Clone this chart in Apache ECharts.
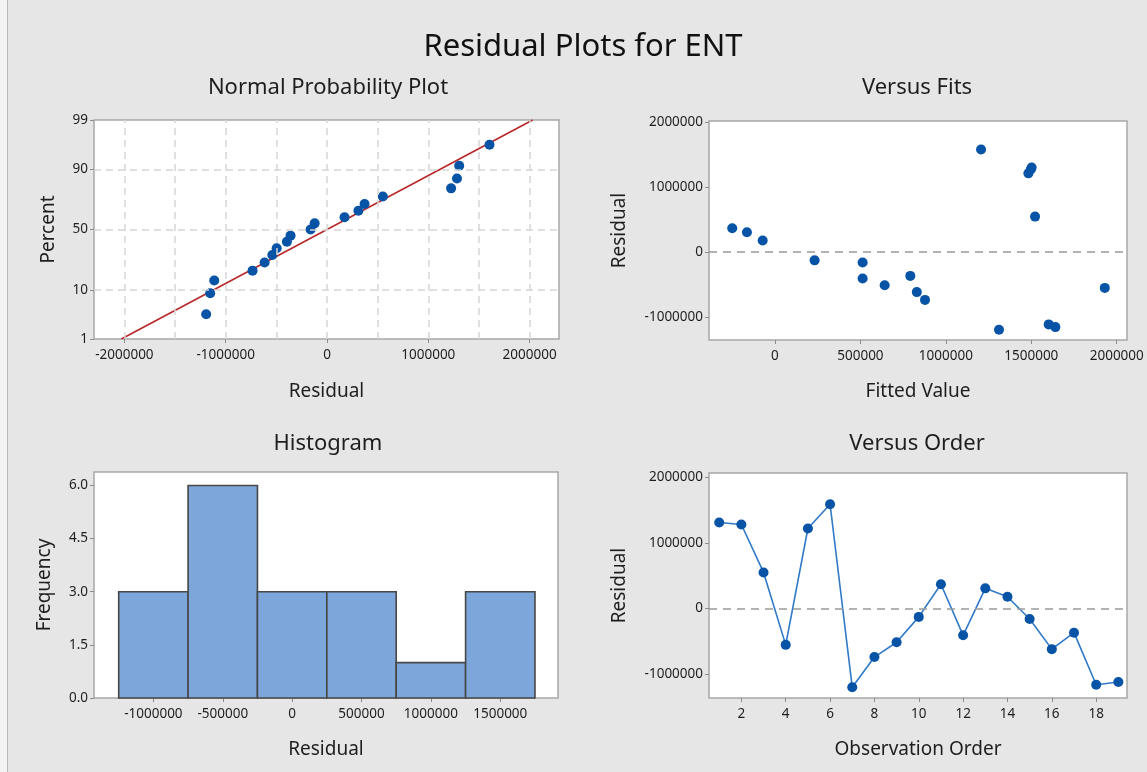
<!DOCTYPE html>
<html>
<head>
<meta charset="utf-8">
<script src="https://cdn.jsdelivr.net/npm/echarts@6/dist/echarts.min.js"></script>
<style>
html,body{margin:0;padding:0;background:#e6e6e6;}
#c{width:1147px;height:772px;}
</style>
</head>
<body>
<div id="c"></div>
<script>
// ---------- data ----------
const observationOrder = [1,2,3,4,5,6,7,8,9,10,11,12,13,14,15,16,17,18,19];
const residuals = [1308000, 1278000, 550000, -550000, 1217000, 1585000, -1195000, -735000, -510000, -125000,
                   370000, -405000, 308000, 180000, -158000, -615000, -365000, -1155000, -1113000];
const fittedValues = [1502000, 1497000, 1522000, 1930000, 1483000, 1206000, 1311000, 878000, 642000, 232000,
                      -250000, 513000, -164000, -72000, 513000, 830000, 792000, 1641000, 1602000];
// normal probability plot (sorted residual vs percent)
const normResidual = [-1193000, -1153000, -1113000, -735000, -616000, -540000, -497000, -396000, -360000, -162000,
                      -122000, 173000, 310000, 371000, 551000, 1225000, 1283000, 1305000, 1604000];
const normPercent = [3.6, 8.8, 13.9, 19.1, 24.2, 29.4, 34.5, 39.7, 44.8, 50.0, 55.2, 60.3, 65.5, 70.6, 75.8, 80.9, 86.1, 91.2, 96.4];
const fitLineResidual = [-2030000, 2030000];
const fitLinePercent = [1, 99];
// histogram
const binCenters = [-1000000, -500000, 0, 500000, 1000000, 1500000];
const binCounts = [3, 6, 3, 3, 1, 3];
const binWidth = 500000;
// tick labels
const normXTicks = [-2000000, -1000000, 0, 1000000, 2000000];
const normXGrid = [-2000000, -1500000, -1000000, -500000, 0, 500000, 1000000, 1500000, 2000000];
const normPctTicks = [1, 10, 50, 90, 99];
const normPctGrid = [10, 50, 90];
const fitsXTicks = [0, 500000, 1000000, 1500000, 2000000];
const residTicks = [-1000000, 0, 1000000, 2000000];
const histXTicks = [-1000000, -500000, 0, 500000, 1000000, 1500000];
const histYTicks = [0, 1.5, 3, 4.5, 6];
const orderXTicks = [2, 4, 6, 8, 10, 12, 14, 16, 18];

// ---------- probability (probit) scale ----------
function probit(p) {
  const a=[-3.969683028665376e+01,2.209460984245205e+02,-2.759285104469687e+02,1.383577518672690e+02,-3.066479806614716e+01,2.506628277459239e+00];
  const b=[-5.447609879822406e+01,1.615858368580409e+02,-1.556989798598866e+02,6.680131188771972e+01,-1.328068155288572e+01];
  const c=[-7.784894002430293e-03,-3.223964580411365e-01,-2.400758277161838e+00,-2.549732539343734e+00,4.374664141464968e+00,2.938163982698783e+00];
  const d=[7.784695709041462e-03,3.224671290700398e-01,2.445134137142996e+00,3.754408661907416e+00];
  const pl=0.02425, ph=1-pl; let q,r;
  if(p<pl){q=Math.sqrt(-2*Math.log(p));return (((((c[0]*q+c[1])*q+c[2])*q+c[3])*q+c[4])*q+c[5])/((((d[0]*q+d[1])*q+d[2])*q+d[3])*q+1);}
  if(p<=ph){q=p-0.5;r=q*q;return (((((a[0]*r+a[1])*r+a[2])*r+a[3])*r+a[4])*r+a[5])*q/(((((b[0]*r+b[1])*r+b[2])*r+b[3])*r+b[4])*r+1);}
  q=Math.sqrt(-2*Math.log(1-p));return -(((((c[0]*q+c[1])*q+c[2])*q+c[3])*q+c[4])*q+c[5])/((((d[0]*q+d[1])*q+d[2])*q+d[3])*q+1);
}
const pz = pct => probit(pct / 100);
const zLabel = {};
normPctTicks.forEach(p => { zLabel[pz(p).toFixed(5)] = String(p); });

// ---------- styling ----------
const FONT = "'Noto Sans', 'Open Sans', sans-serif";
const TXT = '#1e1e1e';
const PT = '#0753a6';
const gridBase = {show:true, backgroundColor:'#ffffff', borderColor:'#a8a8a8', borderWidth:1.5, containLabel:false};
const tickStyle = {color:'#8c8c8c', width:1};
function axisBase(extra) {
  return Object.assign({
    type:'value',
    axisLine:{show:false, onZero:false},
    splitLine:{show:false},
    nameLocation:'middle',
    nameTextStyle:{fontFamily:FONT, fontSize:19, color:TXT},
  }, extra);
}
function labels(values, margin, fmt) {
  return {customValues: values, fontFamily:FONT, fontSize:13.5, color:TXT, margin:margin, formatter: fmt || (v => String(v))};
}
function ticks(values) {
  return {show:true, length:4, customValues:values, lineStyle:tickStyle};
}

const chart = echarts.init(document.getElementById('c'), null, {renderer:'canvas'});

const option = {
  animation:false,
  backgroundColor:'#e6e6e6',
  grid:[
    Object.assign({left:94, top:120, width:465, height:219}, gridBase),
    Object.assign({left:709, top:121, width:418, height:219}, gridBase),
    Object.assign({left:94, top:472, width:464, height:226}, gridBase),
    Object.assign({left:709, top:473, width:418, height:225}, gridBase)
  ],
  xAxis:[
    axisBase({gridIndex:0, min:-2300000, max:2290000, name:'Residual', nameGap:43,
      axisLabel:labels(normXTicks, 9), axisTick:ticks(normXTicks)}),
    axisBase({gridIndex:1, min:-386000, max:2060000, name:'Fitted Value', nameGap:42,
      axisLabel:labels(fitsXTicks, 9), axisTick:ticks(fitsXTicks)}),
    axisBase({gridIndex:2, min:-1428000, max:1916000, name:'Residual', nameGap:42,
      axisLabel:labels(histXTicks, 9), axisTick:ticks(histXTicks)}),
    axisBase({gridIndex:3, min:0.54, max:19.39, name:'Observation Order', nameGap:42,
      axisLabel:labels(orderXTicks, 9), axisTick:ticks(orderXTicks)})
  ],
  yAxis:[
    axisBase({gridIndex:0, min:pz(1), max:pz(99), name:'Percent', nameGap:36,
      axisLabel:labels(normPctTicks.map(pz), 6, v => zLabel[v.toFixed(5)] || ''),
      axisTick:ticks(normPctTicks.map(pz))}),
    axisBase({gridIndex:1, min:-1354000, max:2025000, name:'Residual', nameGap:80,
      axisLabel:labels(residTicks, 6), axisTick:ticks(residTicks)}),
    axisBase({gridIndex:2, min:0, max:6.38, name:'Frequency', nameGap:40,
      axisLabel:labels(histYTicks, 6, v => v.toFixed(1)), axisTick:ticks(histYTicks)}),
    axisBase({gridIndex:3, min:-1357000, max:2060000, name:'Residual', nameGap:80,
      axisLabel:labels(residTicks, 6), axisTick:ticks(residTicks)})
  ],
  graphic:[
    {type:'rect', shape:{x:0, y:0, width:7, height:772}, style:{fill:'#f3f3f3'}, silent:true},
    {type:'rect', shape:{x:7, y:0, width:1, height:772}, style:{fill:'#b9b9b9'}, silent:true},
    {type:'text', x:583, y:47, style:{text:'Residual Plots for ENT', font:'31px ' + FONT, fill:'#111', align:'center', verticalAlign:'middle'}},
    {type:'text', x:328, y:88, style:{text:'Normal Probability Plot', font:'22px ' + FONT, fill:TXT, align:'center', verticalAlign:'middle'}},
    {type:'text', x:917, y:88, style:{text:'Versus Fits', font:'22px ' + FONT, fill:TXT, align:'center', verticalAlign:'middle'}},
    {type:'text', x:328, y:444, style:{text:'Histogram', font:'22px ' + FONT, fill:TXT, align:'center', verticalAlign:'middle'}},
    {type:'text', x:917, y:444, style:{text:'Versus Order', font:'22px ' + FONT, fill:TXT, align:'center', verticalAlign:'middle'}}
  ],
  series:[
    // grid lines of the probability plot
    {type:'line', xAxisIndex:0, yAxisIndex:0, data:[], z:1, silent:true,
      markLine:{silent:true, symbol:['none','none'], label:{show:false}, animation:false,
        lineStyle:{color:'#d6d6d6', width:1.5, type:[7,5]},
        data: normXGrid.map(v => ({xAxis:v})).concat(normPctGrid.map(p => ({yAxis:pz(p)})))}},
    {type:'line', xAxisIndex:0, yAxisIndex:0, z:3, symbol:'none', silent:true,
      lineStyle:{color:'#b8282a', width:1.6},
      data: fitLineResidual.map((r,i) => [r, pz(fitLinePercent[i])])},
    {type:'scatter', xAxisIndex:0, yAxisIndex:0, z:4, symbolSize:10, itemStyle:{color:PT, opacity:1},
      data: normResidual.map((r,i) => [r, pz(normPercent[i])])},
    // versus fits
    {type:'scatter', xAxisIndex:1, yAxisIndex:1, z:4, symbolSize:10, itemStyle:{color:PT, opacity:1},
      data: fittedValues.map((f,i) => [f, residuals[i]]),
      markLine:{silent:true, symbol:['none','none'], label:{show:false}, animation:false,
        lineStyle:{color:'#9a9a9a', width:1.5, type:[8,6]}, data:[{yAxis:0}]}},
    // histogram
    {type:'custom', xAxisIndex:2, yAxisIndex:2, z:3,
      data: binCenters.map((c,i) => [c, binCounts[i]]),
      renderItem: function(params, api) {
        const c = api.value(0), n = api.value(1);
        const p0 = api.coord([c - binWidth/2, 0]);
        const p1 = api.coord([c + binWidth/2, n]);
        return {type:'rect', shape:{x:p0[0], y:p1[1], width:p1[0]-p0[0], height:p0[1]-p1[1]},
          style:{fill:'#7da7da', stroke:'#474747', lineWidth:1.6}};
      }},
    // versus order
    {type:'line', xAxisIndex:3, yAxisIndex:3, z:4, symbol:'circle', symbolSize:10,
      lineStyle:{color:'#2f79c8', width:1.6}, itemStyle:{color:PT, opacity:1},
      data: observationOrder.map((o,i) => [o, residuals[i]]),
      markLine:{silent:true, symbol:['none','none'], label:{show:false}, animation:false,
        lineStyle:{color:'#9a9a9a', width:1.5, type:[8,6]}, data:[{yAxis:0}]}}
  ]
};
chart.setOption(option);
</script>
</body>
</html>
